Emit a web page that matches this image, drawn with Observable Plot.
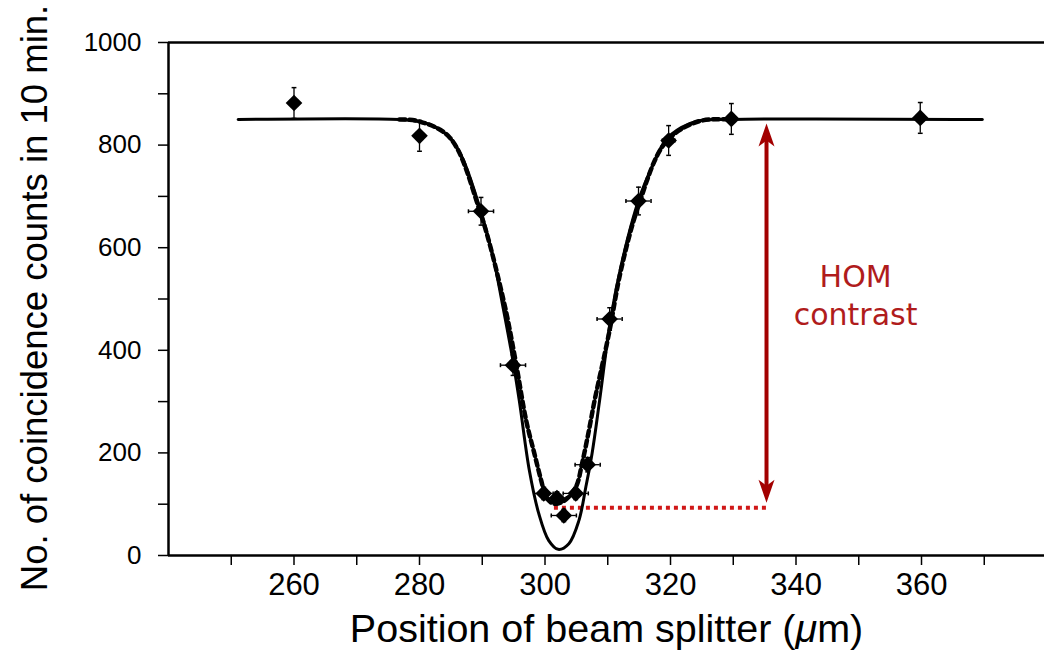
<!DOCTYPE html>
<html><head><meta charset="utf-8">
<script src="https://cdn.jsdelivr.net/npm/d3@7"></script>
<script src="https://cdn.jsdelivr.net/npm/@observablehq/plot@0.6"></script>
<style>html,body{margin:0;padding:0;background:#fff}</style>
</head><body><div id="chart"></div>
<script>
// Measured points
const pos      = [260, 280, 289.8, 294.9, 299.8, 301.9, 303.0, 304.9, 306.8, 310.3, 314.9, 319.7, 329.7, 359.8];
const counts   = [882, 818, 671, 371, 121, 112, 78, 121, 177, 461, 691, 809, 851, 853];
const countErr = [30, 30, 27, 20, 12, 12, 12, 12, 14, 22, 27, 29, 30, 30];
const posErr   = [0, 0, 2, 2, 1.5, 1.5, 2, 2, 2, 2, 2, 1, 0, 0];

// Solid fitted curve
const solidX = [251.1, 276.8, 280.0, 282.1, 284.8, 286.8, 289.5, 291.6, 293.2, 294.8, 295.9, 297.5, 299.0, 300.6, 302.1, 303.8, 305.4, 306.5, 307.5, 308.7, 310.5, 312.2, 314.9, 317.0, 319.2, 321.7, 324.4, 329.7, 369.7];
const solidY = [850, 850, 846, 838, 815, 776, 682, 589, 491, 386, 302, 166, 82, 29, 12, 23, 68, 133, 199, 302, 464, 569, 692, 756, 809, 834, 847, 850, 850];

// Dashed curve
const dashX = [276.8, 280.0, 284.8, 289.5, 293.4, 295.3, 297.0, 298.3, 299.4, 300.2, 301.4, 303.0, 304.9, 305.9, 307.0, 307.9, 310.2, 312.1, 314.9, 319.2, 324.4, 329.7];
const dashY = [850, 846, 815, 676, 497, 380, 263, 199, 146, 113, 101, 106, 133, 179, 244, 302, 433, 556, 682, 805, 846, 850];

// Tick values
const xTicks = [260, 280, 300, 320, 340, 360];
const xMinor = [250, 270, 290, 310, 330, 350, 370];
const yTicks = [0, 200, 400, 600, 800, 1000];
const yMinor = [100, 300, 500, 700, 900];

// Annotation
const contrastX = 335.3;
const contrastTop = 842;
const contrastBottom = 103;
const floorLevel = [93];
const floorFrom = 301.5;
const annotText = "HOM\ncontrast";
const xTitle = "Position of beam splitter (μm)";
const yTitle = "No. of coincidence counts in 10 min.";

const pts = pos.map((p, i) => ({x: p, y: counts[i], ey: countErr[i], ex: posErr[i]}));
const hPts = pts.filter(d => d.ex > 0);
const solid = solidX.map((x, i) => ({x, y: solidY[i]}));
const dashed = dashX.map((x, i) => ({x, y: dashY[i]}));

const capH = {draw(ctx, size) { const r = Math.sqrt(size / Math.PI); ctx.moveTo(-r, 0); ctx.lineTo(r, 0); }};
const capV = {draw(ctx, size) { const r = Math.sqrt(size / Math.PI); ctx.moveTo(0, -r); ctx.lineTo(0, r); }};
const head = {draw(ctx, size) {
  const r = Math.sqrt(size / Math.PI);
  ctx.moveTo(0, 0); ctx.lineTo(-0.8 * r, 2.3 * r); ctx.lineTo(0, 1.7 * r); ctx.lineTo(0.8 * r, 2.3 * r); ctx.closePath();
}};

const red = "#a30000";
const chart = Plot.plot({
  width: 1044, height: 650,
  marginLeft: 168, marginRight: 0, marginTop: 42, marginBottom: 95,
  x: {domain: [240, 379.6]},
  y: {domain: [0, 1000]},
  style: {background: "#fff", fontFamily: "'Liberation Sans', Arial, sans-serif", color: "#000"},
  marks: [
    Plot.axisX(xTicks, {tickSize: 10, tickPadding: 7, fontSize: 31, label: null, strokeWidth: 1.5,
      fontFamily: "'Liberation Sans Narrow', 'Arial Narrow', sans-serif"}),
    Plot.axisX(xMinor, {tickSize: 10, text: null, label: null, strokeWidth: 1.5}),
    Plot.axisY(yTicks, {tickSize: 10, tickPadding: 17, fontSize: 26, label: null, strokeWidth: 1.5,
      tickFormat: d => String(d), fontFamily: "'Liberation Sans', Arial, sans-serif"}),
    Plot.axisY(yMinor, {tickSize: 10, text: null, label: null, strokeWidth: 1.5}),
    Plot.ruleX([240], {strokeWidth: 2.5}),
    Plot.ruleY([0], {strokeWidth: 2.5}),
    Plot.ruleY([1000], {strokeWidth: 2.5}),
    // floor dotted line
    Plot.ruleY(floorLevel, {x1: floorFrom, x2: contrastX, stroke: "#d01818", strokeWidth: 4, strokeDasharray: "4,4"}),
    // curves
    Plot.line(dashed, {x: "x", y: "y", curve: "catmull-rom", strokeWidth: 4.5, strokeDasharray: "6,4"}),
    Plot.line(solid, {x: "x", y: "y", curve: "catmull-rom", strokeWidth: 3}),
    // error bars
    Plot.ruleX(pts, {x: "x", y1: d => d.y - d.ey, y2: d => d.y + d.ey, strokeWidth: 1.3}),
    Plot.dot(pts, {x: "x", y: d => d.y + d.ey, symbol: capH, r: 2.4, stroke: "#000", fill: "none", strokeWidth: 1.5}),
    Plot.dot(pts, {x: "x", y: d => d.y - d.ey, symbol: capH, r: 2.4, stroke: "#000", fill: "none", strokeWidth: 1.5}),
    Plot.ruleY(hPts, {y: "y", x1: d => d.x - d.ex, x2: d => d.x + d.ex, strokeWidth: 1.3}),
    Plot.dot(hPts, {x: d => d.x - d.ex, y: "y", symbol: capV, r: 2, stroke: "#000", fill: "none", strokeWidth: 1.5}),
    Plot.dot(hPts, {x: d => d.x + d.ex, y: "y", symbol: capV, r: 2, stroke: "#000", fill: "none", strokeWidth: 1.5}),
    Plot.dot(pts, {x: "x", y: "y", symbol: "diamond2", r: 7.5, fill: "#000", stroke: "none"}),
    // contrast arrow
    Plot.ruleX([contrastX], {y1: contrastBottom + 25, y2: contrastTop - 25, stroke: red, strokeWidth: 4}),
    Plot.dot([contrastTop], {x: () => contrastX, y: d => d, symbol: head, r: 10, fill: red, stroke: "none"}),
    Plot.dot([contrastBottom], {x: () => contrastX, y: d => d, symbol: head, r: 10, fill: red, stroke: "none", rotate: 180}),
    Plot.text([annotText], {x: 349.5, y: 510, fontSize: 30, lineHeight: 1.27, fill: "#b01c1c",
      fontFamily: "'DejaVu Sans', Verdana, sans-serif", textAnchor: "middle"}),
    // titles
    Plot.text([xTitle], {frameAnchor: "bottom", dy: 86, lineAnchor: "bottom", fontSize: 39.5,
      fontFamily: "'Liberation Sans', Arial, sans-serif"}),
    Plot.text([yTitle], {frameAnchor: "left", rotate: -90, dx: -122, dy: -1, textAnchor: "middle", lineAnchor: "bottom", fontSize: 36.5,
      fontFamily: "'Liberation Sans', Arial, sans-serif"})
  ]
});
document.getElementById("chart").appendChild(chart);
// italic mu
d3.select(chart).selectAll("text").each(function() {
  const t = d3.select(this);
  if (t.text() === xTitle) {
    t.text(null);
    t.append("tspan").text("Position of beam splitter (");
    t.append("tspan").attr("font-style", "italic").text("μ");
    t.append("tspan").text("m)");
  }
});
</script></body></html>
